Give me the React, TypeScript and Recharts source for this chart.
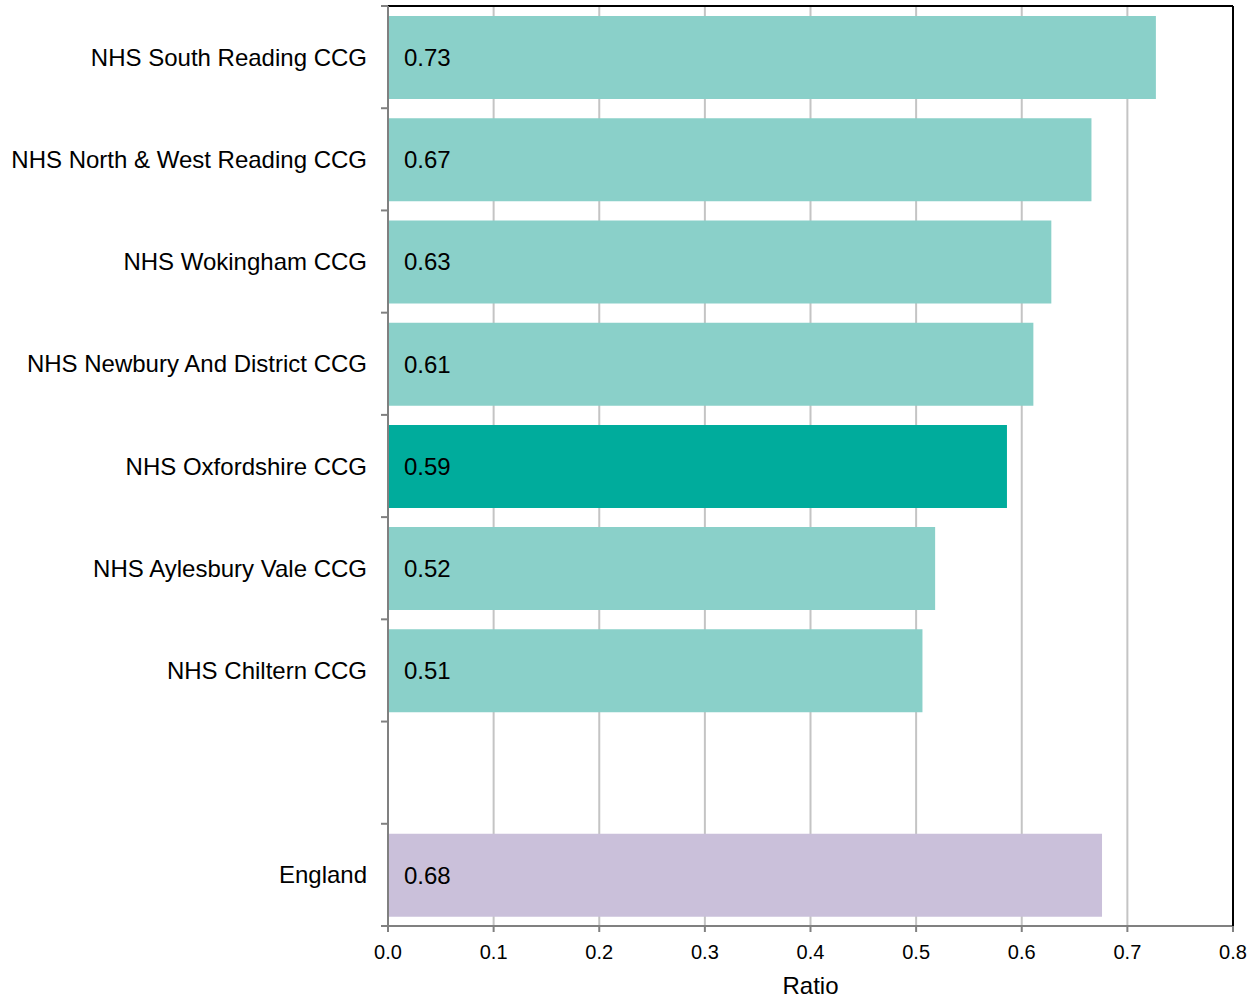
import { BarChart, Bar, XAxis, YAxis, CartesianGrid, Cell, LabelList } from 'recharts';

// colours
const colors = {
  ccg: '#8ad0c9',
  highlight: '#00ac9c',
  england: '#cac0da',
  grid: '#c4c4c4',
  axis: '#808080',
  border: '#000000',
  text: '#000000',
};

const categories = [
  'NHS South Reading CCG',
  'NHS North & West Reading CCG',
  'NHS Wokingham CCG',
  'NHS Newbury And District CCG',
  'NHS Oxfordshire CCG',
  'NHS Aylesbury Vale CCG',
  'NHS Chiltern CCG',
  '',
  'England',
];
const ratios: (number | null)[] = [0.727, 0.666, 0.628, 0.611, 0.586, 0.518, 0.506, null, 0.676];
const kinds = ['ccg', 'ccg', 'ccg', 'ccg', 'highlight', 'ccg', 'ccg', 'ccg', 'england'];
const xTicks = [0, 0.1, 0.2, 0.3, 0.4, 0.5, 0.6, 0.7, 0.8];

const data = categories.map((name, i) => ({ name, ratio: ratios[i], kind: kinds[i] }));

const font = 'Liberation Sans, Arial, sans-serif';
const labelGap = 21;
const tickLen = 7;

// one-line label, plus the little tick marks that sit on the band edges
const CategoryTick = ({ x, y, payload, height, index, visibleTicksCount }: any) => {
  const band = height / visibleTicksCount;
  const ax = x + labelGap;
  const last = index === visibleTicksCount - 1;
  return (
    <g>
      <line x1={ax - tickLen} x2={ax} y1={y - band / 2} y2={y - band / 2} stroke={colors.axis} strokeWidth={2} />
      {last && <line x1={ax - tickLen} x2={ax} y1={y + band / 2} y2={y + band / 2} stroke={colors.axis} strokeWidth={2} />}
      <text x={x} y={y} dy="0.355em" textAnchor="end" fill={colors.text} fontSize={24} fontFamily={font}>
        {payload.value}
      </text>
    </g>
  );
};

export default function App() {
  return (
    <div style={{ position: 'absolute', left: 0, top: 0, width: 1250, height: 998, background: '#fff', fontFamily: font }}>
      <BarChart
        width={1250}
        height={998}
        data={data}
        layout="vertical"
        // the category axis is only 2px wide; its labels spill into the margin
        margin={{ top: 5, right: 16, left: 386, bottom: 0 }}
        barSize={83}
      >
        <CartesianGrid horizontal={false} stroke={colors.grid} strokeWidth={2} />
        <XAxis
          type="number"
          domain={[0, 0.8]}
          ticks={xTicks}
          interval={0}
          height={72}
          tickFormatter={(v: number) => v.toFixed(1)}
          axisLine={{ stroke: colors.axis, strokeWidth: 2 }}
          tickLine={{ stroke: colors.axis, strokeWidth: 2 }}
          tickSize={6}
          tickMargin={13}
          tick={{ fill: colors.text, fontSize: 20, fontFamily: font }}
          label={{ value: 'Ratio', position: 'insideBottom', offset: 4, fill: colors.text, fontSize: 24, fontFamily: font }}
        />
        <XAxis
          xAxisId="top"
          orientation="top"
          type="number"
          domain={[0, 0.8]}
          height={1}
          tick={false}
          tickLine={false}
          axisLine={{ stroke: colors.border, strokeWidth: 2 }}
        />
        <YAxis
          type="category"
          dataKey="name"
          width={2}
          interval={0}
          axisLine={{ stroke: colors.axis, strokeWidth: 2 }}
          tickLine={false}
          tickSize={0}
          tickMargin={labelGap}
          tick={<CategoryTick />}
        />
        <YAxis
          yAxisId="right"
          orientation="right"
          type="number"
          domain={[0, 1]}
          width={1}
          tick={false}
          tickLine={false}
          axisLine={{ stroke: colors.border, strokeWidth: 2 }}
        />
        <Bar dataKey="ratio" isAnimationActive={false}>
          {data.map((d, i) => (
            <Cell key={i} fill={colors[d.kind as keyof typeof colors]} />
          ))}
          <LabelList
            dataKey="ratio"
            position="insideLeft"
            offset={16}
            fill={colors.text}
            fontSize={24}
            fontFamily={font}
            formatter={(v: any) => (v == null ? '' : Number(v).toFixed(2))}
          />
        </Bar>
      </BarChart>
    </div>
  );
}
